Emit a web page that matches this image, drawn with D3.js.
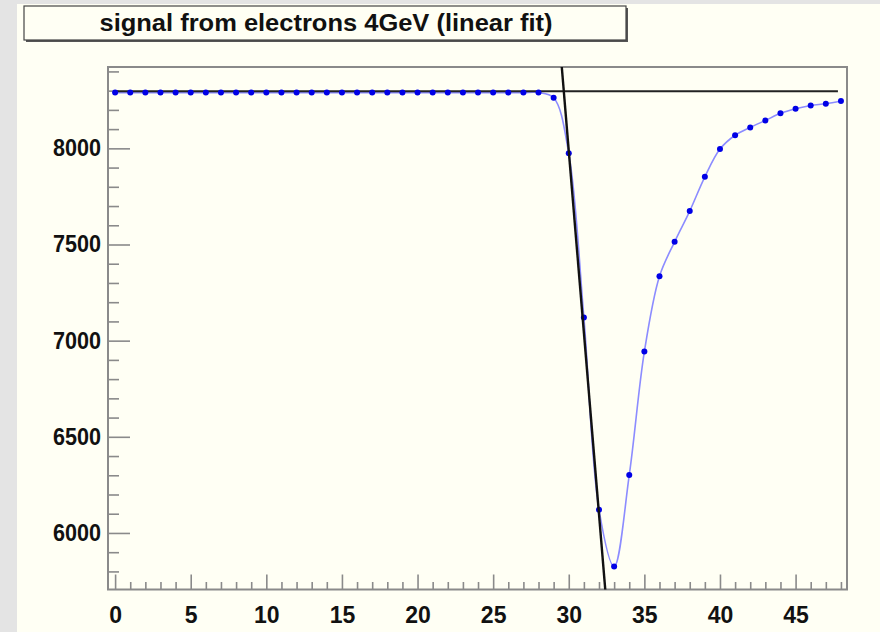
<!DOCTYPE html>
<html>
<head>
<meta charset="utf-8">
<script src="https://cdn.jsdelivr.net/npm/d3@7"></script>
<style>
  body { margin: 0; background: #e4e4e4; }
  svg text { font-family: "Liberation Sans", Arial, sans-serif; font-weight: bold; fill: #111; }
</style>
</head>
<body>
<svg id="chart" width="880" height="632"></svg>
<script>
// sample number on x, signal amplitude on y
const samples = d3.range(0, 49);
const signal = [
  8290, 8290, 8290, 8290, 8290, 8290, 8290, 8290, 8290, 8290,
  8290, 8290, 8290, 8290, 8290, 8290, 8290, 8290, 8290, 8290,
  8290, 8290, 8290, 8290, 8290, 8290, 8290, 8290, 8290, 8263,
  7974, 7120, 6121, 5825, 6301, 6943, 7335, 7514, 7674, 7852,
  7996, 8068, 8109, 8145, 8182, 8206, 8223, 8232, 8246
];
const xTicks = [0, 5, 10, 15, 20, 25, 30, 35, 40, 45];
const yTicks = [6000, 6500, 7000, 7500, 8000];

// fitted lines: flat baseline and linear fit of the leading edge
const baseFit = { x0: 0, x1: 47.8, level: 8297 };
const edgeFit = { slope: -945, intercept: 36337 };

const titleText = "signal from electrons 4GeV (linear fit)";

(function(){
    const svg = d3.select("#chart");

    // cream pad
    svg.append("rect")
        .attr("x", 17).attr("y", 4)
        .attr("width", 880 - 17).attr("height", 632 - 4)
        .attr("fill", "#fffff4");

    const margin = { top: 67, right: 33, bottom: 42.5, left: 108 };
    const width = 880 - margin.left - margin.right;
    const height = 632 - margin.top - margin.bottom;

    const x = d3.scaleLinear().domain([-0.47, 48.4]).range([0, width]);
    const y = d3.scaleLinear().domain([5706, 8423]).range([height, 0]);

    const chartGroup = svg.append("g")
        .attr("transform", `translate(${margin.left}, ${margin.top})`);

    svg.append("defs").append("clipPath").attr("id", "plotclip")
        .append("rect").attr("width", width).attr("height", height);

    // frame
    chartGroup.append("rect")
        .attr("width", width).attr("height", height)
        .attr("fill", "none")
        .attr("stroke", "#8a8a8a")
        .attr("stroke-width", 2);

    // y axis, ticks pointing inward
    const yMinor = d3.range(5800, 8500, 100).filter(v => !yTicks.includes(v));
    chartGroup.append("g")
        .attr("class", "axis")
        .call(d3.axisLeft(y).tickValues(yMinor).tickSize(-11).tickFormat(""));
    chartGroup.append("g")
        .attr("class", "axis ymajor")
        .call(d3.axisLeft(y).tickValues(yTicks).tickSize(-22).tickPadding(7).tickFormat(d3.format("d")));

    // x axis, ticks pointing up
    const xMinor = samples.filter(v => !xTicks.includes(v));
    chartGroup.append("g")
        .attr("class", "axis")
        .attr("transform", `translate(0, ${height})`)
        .call(d3.axisBottom(x).tickValues(xMinor).tickSize(-7.5).tickFormat(""));
    chartGroup.append("g")
        .attr("class", "axis xmajor")
        .attr("transform", `translate(0, ${height})`)
        .call(d3.axisBottom(x).tickValues(xTicks).tickSize(-15).tickPadding(25).tickFormat(d3.format("d")));

    chartGroup.selectAll(".axis .domain").remove();
    chartGroup.selectAll(".axis line").attr("stroke", "#8a8a8a").attr("stroke-width", 1.6);
    chartGroup.selectAll(".axis text")
        .style("font-size", "23px")
        .style("font-family", "'Liberation Sans', Arial, sans-serif")
        .style("font-weight", "bold")
        .attr("fill", "#111");
    chartGroup.selectAll(".ymajor text").attr("textLength", 48).attr("lengthAdjust", "spacingAndGlyphs");
    chartGroup.selectAll(".xmajor text").attr("dy", "0.35em");

    const data = samples.map((s, i) => ({ s: s, v: signal[i] }));
    const plot = chartGroup.append("g").attr("clip-path", "url(#plotclip)");

    // smooth curve through samples
    plot.append("path")
        .datum(data)
        .attr("fill", "none")
        .attr("stroke", "#8c8cff")
        .attr("stroke-width", 1.6)
        .attr("d", d3.line().x(d => x(d.s)).y(d => y(d.v)).curve(d3.curveCatmullRom.alpha(0.5)));

    // baseline fit
    plot.append("line")
        .attr("x1", x(baseFit.x0)).attr("x2", x(baseFit.x1))
        .attr("y1", y(baseFit.level)).attr("y2", y(baseFit.level))
        .attr("stroke", "#222").attr("stroke-width", 2);

    // points
    plot.selectAll("circle")
        .data(data)
        .enter()
        .append("circle")
        .attr("cx", d => x(d.s))
        .attr("cy", d => y(d.v))
        .attr("r", 3)
        .attr("fill", "#0000e6");

    // leading-edge linear fit
    const ex0 = 29, ex1 = 33;
    plot.append("line")
        .attr("x1", x(ex0)).attr("y1", y(edgeFit.intercept + edgeFit.slope * ex0))
        .attr("x2", x(ex1)).attr("y2", y(edgeFit.intercept + edgeFit.slope * ex1))
        .attr("stroke", "#111").attr("stroke-width", 2.4);

    // title box
    svg.append("rect")
        .attr("x", 26).attr("y", 8)
        .attr("width", 602).attr("height", 34)
        .attr("fill", "#555");
    svg.append("rect")
        .attr("x", 24).attr("y", 6)
        .attr("width", 602).attr("height", 34)
        .attr("fill", "#fffff4")
        .attr("stroke", "#444")
        .attr("stroke-width", 1.2);
    svg.append("text")
        .attr("x", 326).attr("y", 31)
        .attr("text-anchor", "middle")
        .attr("textLength", 453)
        .attr("lengthAdjust", "spacingAndGlyphs")
        .style("font-size", "24px")
        .text(titleText);
})();
</script>
</body>
</html>
